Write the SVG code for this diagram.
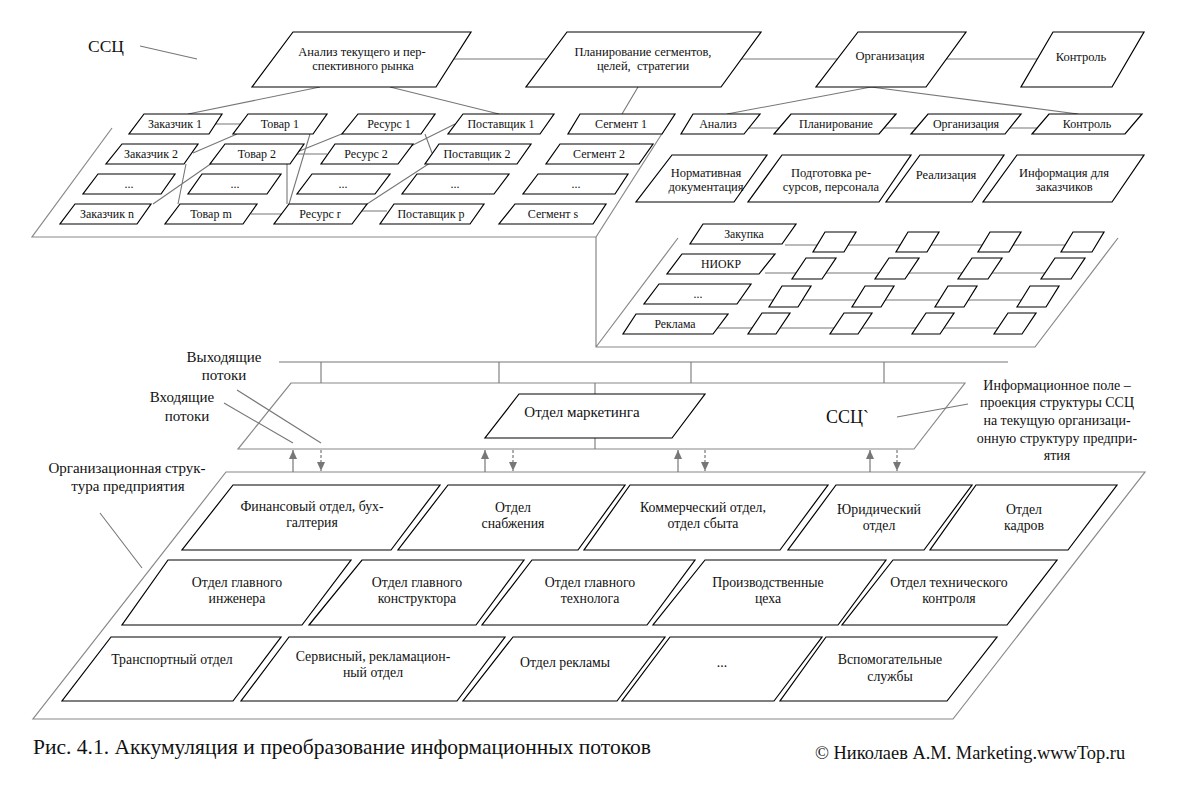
<svg xmlns="http://www.w3.org/2000/svg" width="1183" height="793" viewBox="0 0 1183 793">
<style>
.b{fill:#fff;stroke:#000;stroke-width:1.2}
.p{fill:none;stroke:#888;stroke-width:1.2}
.c{fill:none;stroke:#777;stroke-width:1.1}
text{font-family:"Liberation Serif","Times New Roman","DejaVu Serif",serif;fill:#111;text-anchor:middle}
.t12{font-size:12px}
.t125{font-size:12.5px}
.tg{font-size:11.8px}
.t13{font-size:13.8px}
.t14{font-size:14px}
.t15{font-size:15px}
.l{text-anchor:start}
</style>
<defs>
<marker id="ah" markerWidth="9" markerHeight="8" refX="9" refY="4" orient="auto" markerUnits="userSpaceOnUse" viewBox="0 0 9 8">
<path d="M0,0 L9,4 L0,8 Z" fill="#777"/>
</marker>
</defs>
<rect width="1183" height="793" fill="#fff"/>

<g id="planes">
<path class="p" d="M112,128 L32,237 L596,237 M663,132 L596,237"/>
<path class="p" d="M596,237 L596,347 L1035,347 L1118,238 M678,238 L596,347"/>
<polygon class="p" points="291,383 965,383 914,449 238,449"/>
<polygon class="p" points="226,472 1145,472 953,719 33,719"/>
</g>

<g id="connectors">
<path class="c" d="M454,59 H547 M741,59 H837 M946,59 H1037"/>
<path class="c" d="M320,87 L188,114 M390,87 L499,114 M638,87 L622,114 M871,87 L727,114 M871,87 L1078,114"/>
<path class="c" d="M215,124 H241 M749,128 H779 M884,128 H916 M1009,128 H1037"/>
<path class="c" d="M237,134 L193,153 M186,164 L178,204 M212,163 L153,204 M344,133 L297,152 M310,134 L289,204 M287,164 L287,204 M455,124 L411,146 M425,134 L432,153 M430,163 L367,204 M297,154 H327 M251,214 H283 M362,211 H387"/>
<path class="c" d="M785,245 H1075 M765,273 H1060 M740,300 H1035 M715,328 H1010"/>
<path class="c" d="M279,362 H1008 M321,362 V383 M499,362 V383 M691,362 V383 M884,362 V383 M595,383 V394 M595,438 V449"/>
<path class="c" d="M140,46 L197,59 M237,390 L321,443 M224,403 L293,443 M897,417 L968,404 M100,513 L142,568"/>
<g stroke="#777" stroke-width="1.2">
<line x1="293" y1="472" x2="293" y2="450" marker-end="url(#ah)"/>
<line x1="485" y1="472" x2="485" y2="450" marker-end="url(#ah)"/>
<line x1="678" y1="472" x2="678" y2="450" marker-end="url(#ah)"/>
<line x1="870" y1="472" x2="870" y2="450" marker-end="url(#ah)"/>
<line x1="321" y1="450" x2="321" y2="471" stroke-dasharray="3,2" marker-end="url(#ah)"/>
<line x1="513" y1="450" x2="513" y2="471" stroke-dasharray="3,2" marker-end="url(#ah)"/>
<line x1="705" y1="450" x2="705" y2="471" stroke-dasharray="3,2" marker-end="url(#ah)"/>
<line x1="897" y1="450" x2="897" y2="471" stroke-dasharray="3,2" marker-end="url(#ah)"/>
</g>
</g>

<g id="top-row">
<g id="n-analiz"><polygon class="b" points="293,32 471,32 436,87 252,87"/><text class="t125" x="362" y="56">Анализ текущего и пер-</text><text class="t125" x="363" y="70">спективного рынка</text></g>
<g id="n-plan"><polygon class="b" points="567,32 761,32 721,87 526,87"/><text class="t125" x="643" y="56">Планирование сегментов,</text><text class="t125" x="643" y="70" xml:space="preserve">целей,  стратегии</text></g>
<g id="n-org"><polygon class="b" points="858,32 966,32 926,87 816,87"/><text class="t125" x="890" y="60">Организация</text></g>
<g id="n-kontrol"><polygon class="b" points="1053,32 1144,32 1112,87 1021,87"/><text class="t125" x="1081" y="61">Контроль</text></g>
</g>

<g id="ssc-boxes">
<g id="r1a"><polygon class="b" points="144,114 222,114 209,134 129,134"/><text class="t12" x="175" y="128">Заказчик 1</text></g>
<g id="r1b"><polygon class="b" points="248,114 327,114 313,134 233,134"/><text class="t12" x="280" y="128">Товар 1</text></g>
<g id="r1c"><polygon class="b" points="358,114 435,114 421,134 342,134"/><text class="t12" x="389" y="128">Ресурс 1</text></g>
<g id="r1d"><polygon class="b" points="463,114 554,114 540,134 448,134"/><text class="t12" x="501" y="128">Поставщик 1</text></g>
<g id="r1e"><polygon class="b" points="580,114 675,114 662,134 568,134"/><text class="t12" x="621" y="128">Сегмент 1</text></g>
<g id="r1f"><polygon class="b" points="693,114 760,114 744,134 681,134"/><text class="t12" x="718" y="128">Анализ</text></g>
<g id="r1g"><polygon class="b" points="791,114 896,114 879,134 774,134"/><text class="t12" x="836" y="128">Планирование</text></g>
<g id="r1h"><polygon class="b" points="928,114 1021,114 1005,134 911,134"/><text class="t12" x="966" y="128">Организация</text></g>
<g id="r1i"><polygon class="b" points="1049,114 1142,114 1125,134 1032,134"/><text class="t12" x="1087" y="128">Контроль</text></g>

<g id="r2a"><polygon class="b" points="122,144 198,144 184,164 106,164"/><text class="t12" x="151" y="158">Заказчик 2</text></g>
<g id="r2b"><polygon class="b" points="225,144 304,144 290,164 210,164"/><text class="t12" x="257" y="158">Товар 2</text></g>
<g id="r2c"><polygon class="b" points="335,144 413,144 398,164 321,164"/><text class="t12" x="366" y="158">Ресурс 2</text></g>
<g id="r2d"><polygon class="b" points="439,144 531,144 517,164 425,164"/><text class="t12" x="477" y="158">Поставщик 2</text></g>
<g id="r2e"><polygon class="b" points="560,144 653,144 639,164 546,164"/><text class="t12" x="599" y="158">Сегмент 2</text></g>

<g id="r3a"><polygon class="b" points="98,174 175,174 161,194 83,194"/><text class="t12" x="129" y="188">...</text></g>
<g id="r3b"><polygon class="b" points="202,174 281,174 267,194 188,194"/><text class="t12" x="235" y="188">...</text></g>
<g id="r3c"><polygon class="b" points="312,174 390,174 375,194 297,194"/><text class="t12" x="343" y="188">...</text></g>
<g id="r3d"><polygon class="b" points="417,174 509,174 494,194 402,194"/><text class="t12" x="455" y="188">...</text></g>
<g id="r3e"><polygon class="b" points="538,174 628,174 615,194 523,194"/><text class="t12" x="576" y="188">...</text></g>

<g id="r4a"><polygon class="b" points="75,204 151,204 137,224 60,224"/><text class="t12" x="107" y="218">Заказчик n</text></g>
<g id="r4b"><polygon class="b" points="180,204 257,204 243,224 165,224"/><text class="t12" x="211" y="218">Товар m</text></g>
<g id="r4c"><polygon class="b" points="289,204 367,204 352,224 274,224"/><text class="t12" x="320" y="218">Ресурс r</text></g>
<g id="r4d"><polygon class="b" points="394,204 484,204 470,224 380,224"/><text class="t12" x="431" y="218">Поставщик p</text></g>
<g id="r4e"><polygon class="b" points="515,204 606,204 593,224 499,224"/><text class="t12" x="553" y="218">Сегмент s</text></g>
</g>

<g id="org-tasks">
<g id="n-norm"><polygon class="b" points="672,155 767,155 734,202 636,202"/><text class="t125" x="706" y="177">Нормативная</text><text class="t125" x="706" y="191">документация</text></g>
<g id="n-podg"><polygon class="b" points="782,155 911,155 879,202 748,202"/><text class="t125" x="831" y="177">Подготовка ре-</text><text class="t125" x="831" y="191">сурсов, персонала</text></g>
<g id="n-real"><polygon class="b" points="920,155 1004,155 972,202 886,202"/><text class="t125" x="946" y="179">Реализация</text></g>
<g id="n-info"><polygon class="b" points="1017,155 1144,155 1112,202 983,202"/><text class="t125" x="1064" y="177">Информация для</text><text class="t125" x="1064" y="191">заказчиков</text></g>
</g>

<g id="grid">
<g id="g-zak"><polygon class="b" points="703,224 796,224 782,244 690,244"/><text class="tg" x="744" y="238">Закупка</text></g>
<g id="g-niokr"><polygon class="b" points="682,254 775,254 759,274 667,274"/><text class="tg" x="721" y="268">НИОКР</text></g>
<g id="g-dots"><polygon class="b" points="659,284 751,284 737,304 644,304"/><text class="tg" x="698" y="298">...</text></g>
<g id="g-rekl"><polygon class="b" points="636,314 728,314 713,334 623,334"/><text class="tg" x="675" y="328">Реклама</text></g>
<g id="g-cells">
<polygon class="b" points="825,232 856,232 844,252 813,252"/>
<polygon class="b" points="908,232 939,232 927,252 896,252"/>
<polygon class="b" points="990,232 1021,232 1009,252 978,252"/>
<polygon class="b" points="1073,232 1104,232 1092,252 1061,252"/>
<polygon class="b" points="806,258 836,258 822,279 792,279"/>
<polygon class="b" points="889,258 919,258 905,279 875,279"/>
<polygon class="b" points="972,258 1002,258 988,279 958,279"/>
<polygon class="b" points="1055,258 1085,258 1071,279 1041,279"/>
<polygon class="b" points="782,286 811,286 798,307 769,307"/>
<polygon class="b" points="865,286 894,286 881,307 852,307"/>
<polygon class="b" points="948,286 977,286 964,307 935,307"/>
<polygon class="b" points="1030,286 1059,286 1046,307 1017,307"/>
<polygon class="b" points="762,313 790,313 776,334 748,334"/>
<polygon class="b" points="844,313 872,313 858,334 830,334"/>
<polygon class="b" points="926,313 954,313 940,334 912,334"/>
<polygon class="b" points="1008,313 1036,313 1022,334 994,334"/>
</g>
</g>

<g id="n-marketing"><polygon class="b" points="519,394 705,394 672,438 485,438"/><text class="t15" x="582" y="417">Отдел маркетинга</text></g>

<g id="org-structure">
<g id="d1"><polygon class="b" points="233,485 440,485 391,550 182,550"/><text class="t13" x="312" y="511">Финансовый отдел, бух-</text><text class="t13" x="312" y="527">галтерия</text></g>
<g id="d2"><polygon class="b" points="448,485 625,485 578,550 398,550"/><text class="t13" x="513" y="512">Отдел</text><text class="t13" x="513" y="528">снабжения</text></g>
<g id="d3"><polygon class="b" points="630,485 828,485 780,550 584,550"/><text class="t13" x="703" y="512">Коммерческий отдел,</text><text class="t13" x="703" y="528">отдел сбыта</text></g>
<g id="d4"><polygon class="b" points="836,485 972,485 924,550 788,550"/><text class="t13" x="879" y="514">Юридический</text><text class="t13" x="879" y="530">отдел</text></g>
<g id="d5"><polygon class="b" points="976,485 1117,485 1068,550 930,550"/><text class="t13" x="1024" y="514">Отдел</text><text class="t13" x="1024" y="530">кадров</text></g>
<g id="d6"><polygon class="b" points="168,560 351,560 302,625 122,625"/><text class="t13" x="237" y="587">Отдел главного</text><text class="t13" x="237" y="603">инженера</text></g>
<g id="d7"><polygon class="b" points="362,560 524,560 476,625 309,625"/><text class="t13" x="417" y="587">Отдел главного</text><text class="t13" x="417" y="603">конструктора</text></g>
<g id="d8"><polygon class="b" points="532,560 695,560 647,625 482,625"/><text class="t13" x="590" y="587">Отдел главного</text><text class="t13" x="590" y="603">технолога</text></g>
<g id="d9"><polygon class="b" points="705,560 886,560 838,625 653,625"/><text class="t13" x="768" y="587">Производственные</text><text class="t13" x="768" y="603">цеха</text></g>
<g id="d10"><polygon class="b" points="893,560 1057,560 1007,625 842,625"/><text class="t13" x="949" y="587">Отдел технического</text><text class="t13" x="949" y="603">контроля</text></g>
<g id="d11"><polygon class="b" points="111,637 281,637 233,701 62,701"/><text class="t13" x="172" y="664">Транспортный отдел</text></g>
<g id="d12"><polygon class="b" points="289,637 505,637 457,701 241,701"/><text class="t13" x="373" y="661">Сервисный, рекламацион-</text><text class="t13" x="373" y="677">ный отдел</text></g>
<g id="d13"><polygon class="b" points="513,637 665,637 617,701 463,701"/><text class="t13" x="565" y="667">Отдел рекламы</text></g>
<g id="d14"><polygon class="b" points="670,637 822,637 774,701 622,701"/><text class="t13" x="722" y="667">...</text></g>
<g id="d15"><polygon class="b" points="826,637 997,637 947,701 780,701"/><text class="t13" x="890" y="664">Вспомогательные</text><text class="t13" x="890" y="681">службы</text></g>
</g>

<g id="labels">
<text class="l" x="88" y="52" style="font-size:17.5px">ССЦ</text>
<text class="t15" x="224" y="362">Выходящие</text>
<text class="t15" x="224" y="380">потоки</text>
<text class="t15" x="182" y="402">Входящие</text>
<text class="t15" x="187" y="421">потоки</text>
<text class="l" x="826" y="423" style="font-size:18px">ССЦ`</text>
<text class="t14" x="1057" y="390">Информационное поле –</text>
<text class="t14" x="1057" y="407">проекция структуры ССЦ</text>
<text class="t14" x="1057" y="425">на текущую организаци-</text>
<text class="t14" x="1057" y="443">онную структуру предпри-</text>
<text class="t14" x="1057" y="460">ятия</text>
<text class="t15" x="127" y="473">Организационная струк-</text>
<text class="t15" x="128" y="491">тура предприятия</text>
<text class="l" x="33" y="754" style="font-size:21.5px">Рис. 4.1. Аккумуляция и преобразование информационных потоков</text>
<text class="l" x="815" y="759" style="font-size:18.4px">© Николаев А.М. Marketing.wwwTop.ru</text>
</g>
</svg>
